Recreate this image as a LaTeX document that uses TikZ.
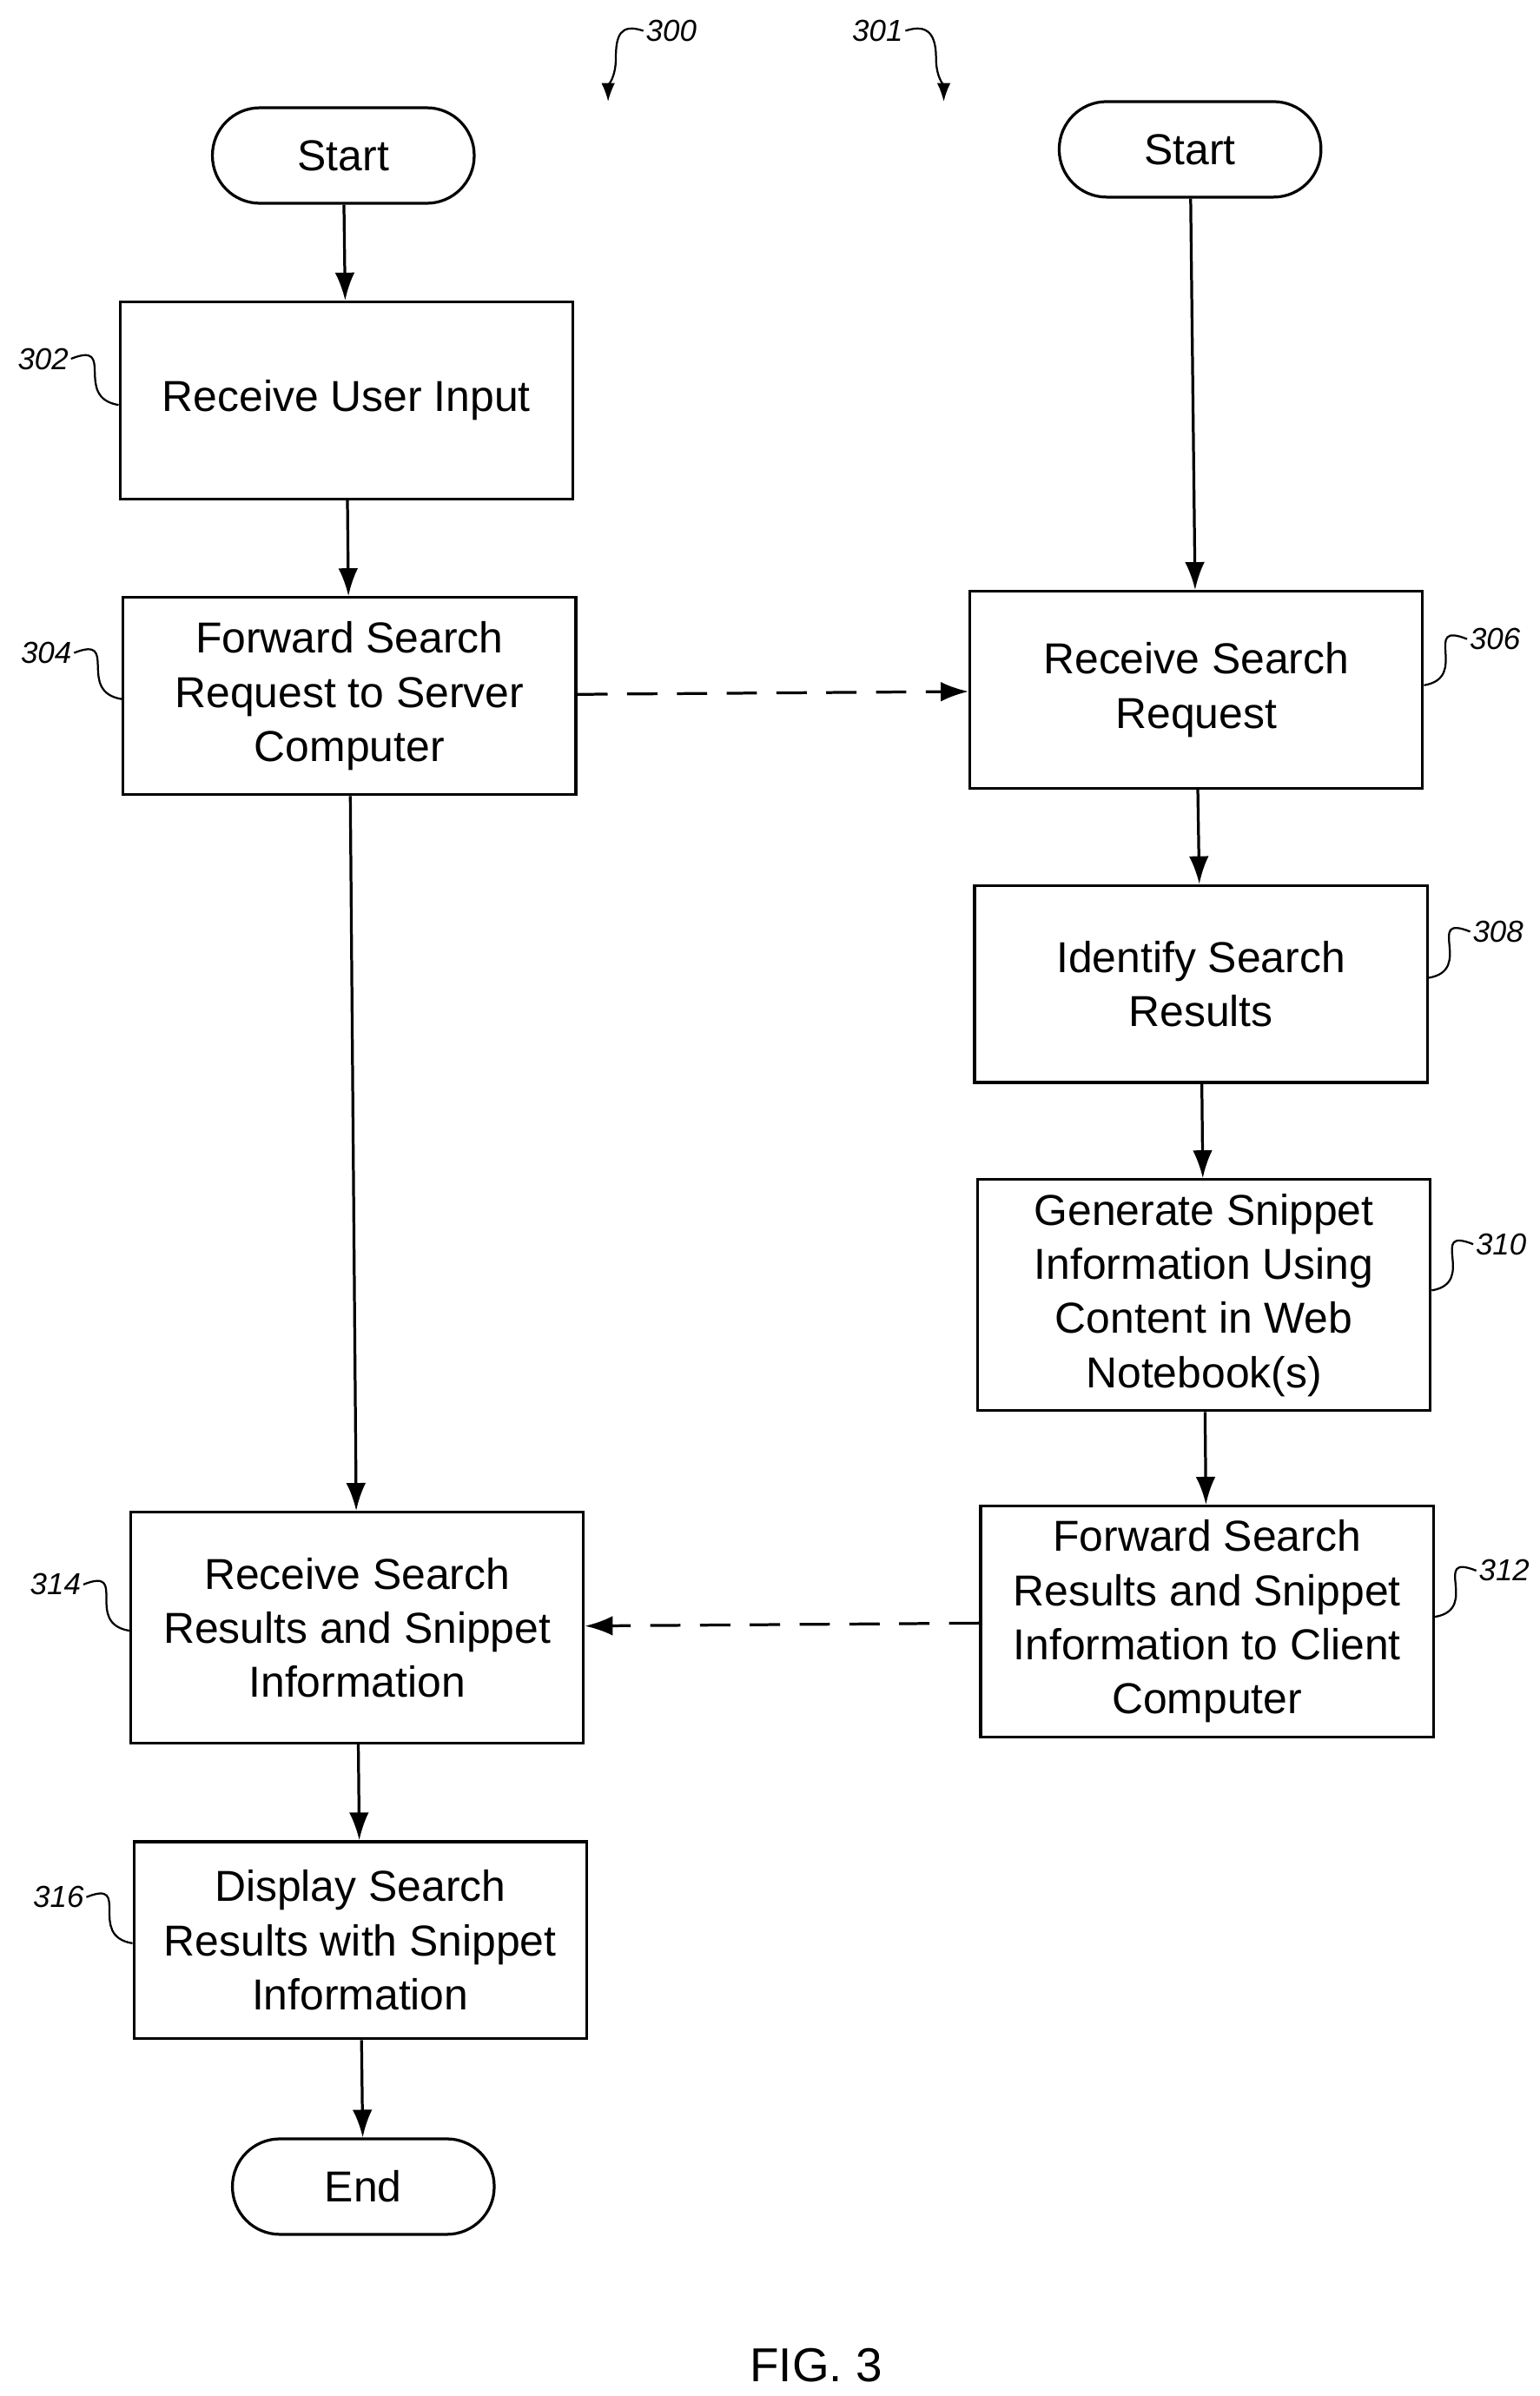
\documentclass[tikz,border=0pt]{standalone}
\usepackage{fontspec}
\setmainfont{Liberation Sans}
\usetikzlibrary{arrows.meta,positioning}
\tikzset{
  box/.style={draw, line width=1.3pt, minimum width=7.35cm, minimum height=3.2cm, align=center, font=\fontsize{20}{25}\selectfont},
  term/.style={draw, line width=1.3pt, minimum width=4.25cm, minimum height=1.55cm, rounded corners=0.77cm, font=\fontsize{20}{25}\selectfont},
  flow/.style={line width=1.3pt, -{Latex[length=0.45cm,width=0.32cm]}},
  lbl/.style={font=\itshape\fontsize{14}{16}\selectfont, inner sep=1pt},
  lead/.style={line width=0.9pt}
}
\begin{document}
\begin{tikzpicture}[x=0.025cm, y=-0.025cm]
  \useasboundingbox (0,0) rectangle (1000,1556);
    % client side
  \node[term] (s1) at (223,101) {Start};
  \node[box] (302) at (225,260) {Receive User Input};
  \node[box] (304) at (227,452) {Forward Search\\Request to Server\\Computer};
  \node[box, minimum height=3.75cm] (314) at (232,1057) {Receive Search\\Results and Snippet\\Information};
  \node[box] (316) at (234,1260) {Display Search\\Results with Snippet\\Information};
  \node[term] (e1) at (236,1420) {End};
    % server side
  \node[term] (s2) at (773,97) {Start};
  \node[box] (306) at (777,448) {Receive Search\\Request};
  \node[box] (308) at (780,639) {Identify Search\\Results};
  \node[box, minimum height=3.75cm] (310) at (782,841) {Generate Snippet\\Information Using\\Content in Web\\Notebook(s)};
  \node[box, minimum height=3.75cm] (312) at (784,1053) {Forward Search\\Results and Snippet\\Information to Client\\Computer};
  \node[font=\fontsize{22}{26}\selectfont] (fig) at (530,1536) {FIG. 3};

    % the flows
  \draw[flow] (s1) -- (302);
  \draw[flow] (302) -- (304);
  \draw[flow] (304) -- (314);
  \draw[flow] (314) -- (316);
  \draw[flow] (316) -- (e1);
  \draw[flow] (s2) -- (306);
  \draw[flow] (306) -- (308);
  \draw[flow] (308) -- (310);
  \draw[flow] (310) -- (312);
  \draw[flow, dash pattern=on 14pt off 9pt] (304) -- (306);
  \draw[flow, dash pattern=on 14pt off 9pt] (312) -- (314);

    % reference numerals
  \node[lbl] (l300) at (436,20) {300};
  \node[lbl] (l301) at (570,20) {301};
  \coordinate (a300) at (395,66);
  \coordinate (a301) at (613,66);
  \draw[lead, -{Latex[length=0.3cm,width=0.22cm]}] (l300.west) .. controls +(-15,-5) and +(0,-15) .. (400,38) .. controls +(0,12) and +(0,-10) .. (a300);
  \draw[lead, -{Latex[length=0.3cm,width=0.22cm]}] (l301.east) .. controls +(15,-5) and +(0,-15) .. (608,38) .. controls +(0,12) and +(0,-10) .. (a301);
  \foreach \n/\x/\y in {302/28/233, 304/30/424, 314/36/1029, 316/38/1232} {
    \node[lbl] (l\n) at (\x,\y) {\n};
    \draw[lead] (l\n.east) .. controls +(30,-12) and +(-30,-5) .. (\n.west |- 0,\y+30);
  }
  \foreach \n/\x/\y in {306/971/415, 308/973/605, 310/975/808, 312/977/1020} {
    \node[lbl] (l\n) at (\x,\y) {\n};
    \draw[lead] (l\n.west) .. controls +(-30,-12) and +(30,-5) .. (\n.east |- 0,\y+30);
  }
\end{tikzpicture}
\end{document}
